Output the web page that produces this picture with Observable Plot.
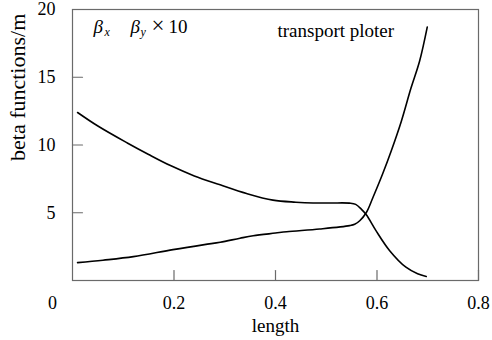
<!DOCTYPE html>
<html><head><meta charset="utf-8">
<script src="https://cdn.jsdelivr.net/npm/d3@7"></script>
<script src="https://cdn.jsdelivr.net/npm/@observablehq/plot@0.6"></script>
<style>body{margin:0;background:#fff} svg{display:block} svg text{font-family:'Liberation Serif','Times New Roman',serif}</style>
</head><body><div id="chart"></div>
<script>
// beta x (decreasing curve)
const sX = [0.01, 0.05, 0.108, 0.15, 0.193, 0.24, 0.291, 0.343, 0.395, 0.44, 0.474, 0.51, 0.546, 0.558, 0.569, 0.579, 0.598, 0.625, 0.657, 0.68, 0.697];
const betaX = [12.4, 11.4, 10.15, 9.3, 8.48, 7.72, 7.06, 6.42, 5.93, 5.78, 5.72, 5.72, 5.71, 5.62, 5.27, 4.85, 3.68, 2.2, 0.98, 0.5, 0.3];
// beta y x10 (increasing curve)
const sY = [0.01, 0.06, 0.12, 0.198, 0.26, 0.291, 0.33, 0.356, 0.4, 0.422, 0.487, 0.546, 0.556, 0.566, 0.579, 0.592, 0.611, 0.628, 0.648, 0.667, 0.684, 0.699];
const betaY = [1.32, 1.5, 1.76, 2.28, 2.65, 2.82, 3.12, 3.3, 3.5, 3.6, 3.8, 4.05, 4.15, 4.41, 5.02, 6.13, 7.86, 9.56, 11.76, 14.2, 16.2, 18.7];
const xTicks = [0.2, 0.4, 0.6, 0.8];
const xOrigin = [0];
const yTicks = [5, 10, 15, 20];

const dataX = sX.map((s, i) => ({s, v: betaX[i]}));
const dataY = sY.map((s, i) => ({s, v: betaY[i]}));
const axisGray = "#6a6a6a";
const serif = "'Liberation Serif', 'Times New Roman', serif";
const tickLine = {draw(context, l) { context.moveTo(0, 0); context.lineTo(0, -l); }};

const chart = Plot.plot({
  width: 492, height: 340,
  marginLeft: 72, marginRight: 14, marginTop: 9, marginBottom: 60,
  style: {fontFamily: serif, fontSize: "18px", background: "#fff", color: "#000"},
  x: {domain: [0, 0.8], axis: null},
  y: {domain: [0, 20], axis: null},
  marks: [
    Plot.frame({stroke: axisGray, strokeWidth: 1.2}),
    // inward tick marks
    Plot.vector(xTicks, {x: d => d, y: () => 0, length: 10, rotate: 0, anchor: "start", stroke: axisGray, strokeWidth: 1.2, shape: tickLine}),
    Plot.vector(yTicks, {x: () => 0, y: d => d, length: 10, rotate: 90, anchor: "start", stroke: axisGray, strokeWidth: 1.2, shape: tickLine}),
    // tick labels
    Plot.text(xTicks, {x: d => d, frameAnchor: "bottom", dy: 16, lineAnchor: "top", text: d => String(d), fontSize: 18, fontFamily: serif}),
    Plot.text(xOrigin, {x: d => d, frameAnchor: "bottom", dy: 16, dx: -20, lineAnchor: "top", text: d => String(d), fontSize: 18, fontFamily: serif}),
    Plot.text(yTicks, {y: d => d, frameAnchor: "left", dx: -17, textAnchor: "end", text: d => String(d), fontSize: 18, fontFamily: serif}),
    Plot.line(dataX, {x: "s", y: "v", curve: "catmull-rom", stroke: "#000", strokeWidth: 1.6}),
    Plot.line(dataY, {x: "s", y: "v", curve: "catmull-rom", stroke: "#000", strokeWidth: 1.6}),
    Plot.text(["β"], {text: d => d, frameAnchor: "top-left", dx: 21, dy: 23, lineAnchor: "bottom", textAnchor: "start", fontStyle: "italic", fontSize: 19}),
    Plot.text(["x"], {text: d => d, frameAnchor: "top-left", dx: 32, dy: 26, lineAnchor: "bottom", textAnchor: "start", fontStyle: "italic", fontSize: 12}),
    Plot.text(["β"], {text: d => d, frameAnchor: "top-left", dx: 58, dy: 23, lineAnchor: "bottom", textAnchor: "start", fontStyle: "italic", fontSize: 19}),
    Plot.text(["y"], {text: d => d, frameAnchor: "top-left", dx: 68, dy: 26, lineAnchor: "bottom", textAnchor: "start", fontStyle: "italic", fontSize: 12}),
    Plot.text(["×"], {text: d => d, frameAnchor: "top-left", dx: 79, dy: 23, lineAnchor: "bottom", textAnchor: "start", fontSize: 23}),
    Plot.text(["10"], {text: d => d, frameAnchor: "top-left", dx: 96, dy: 23, lineAnchor: "bottom", textAnchor: "start", fontSize: 19}),
    Plot.text(["transport ploter"], {text: d => d, frameAnchor: "top-left", dx: 205, dy: 27, lineAnchor: "bottom", textAnchor: "start", fontSize: 19}),
    Plot.text(["beta functions/m"], {text: d => d, frameAnchor: "left", dx: -55, dy: 16, rotate: -90, fontSize: 22}),
    Plot.text(["length"], {text: d => d, frameAnchor: "bottom", dy: 51, fontSize: 19})
  ]
});
document.getElementById("chart").appendChild(chart);
</script>
</body></html>
